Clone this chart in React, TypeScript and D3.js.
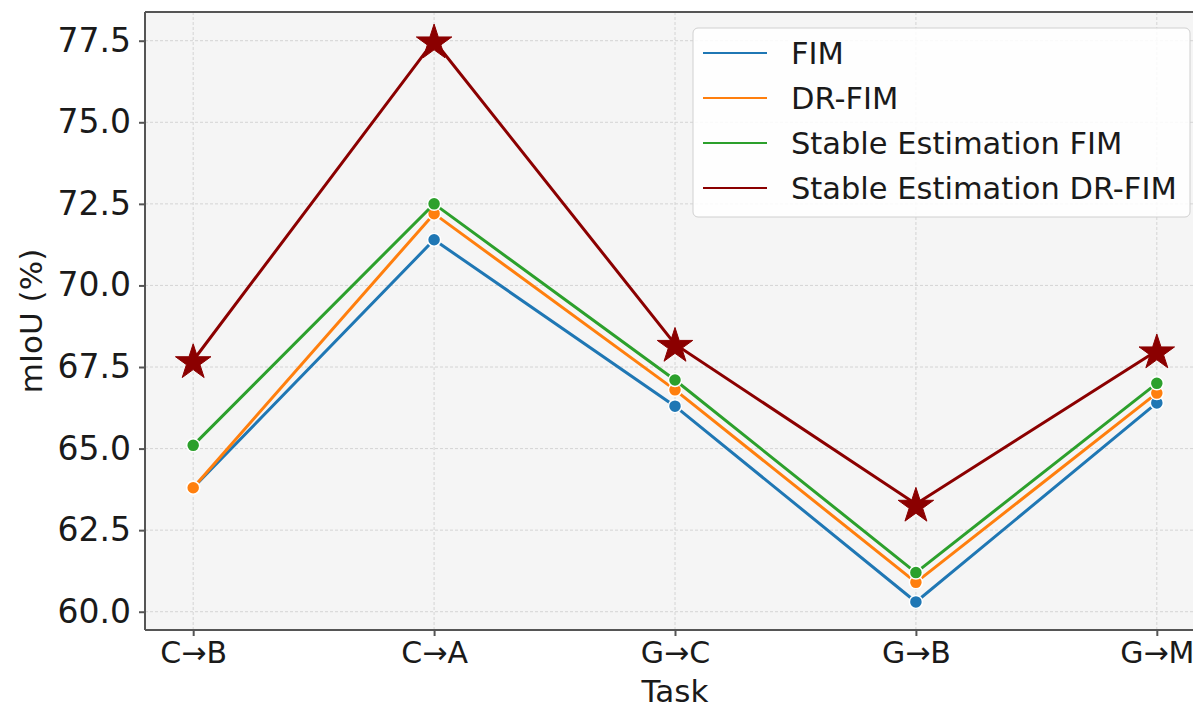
import * as d3 from "d3";
import { useEffect, useRef } from "react";

const tasks = ["C→B", "C→A", "G→C", "G→B", "G→M"];
const fim = [63.8, 71.4, 66.3, 60.3, 66.4];
const drFim = [63.8, 72.2, 66.8, 60.9, 66.7];
const seFim = [65.1, 72.5, 67.1, 61.2, 67.0];
const seDrFim = [67.7, 77.5, 68.2, 63.3, 68.0];
const yTicks = [60.0, 62.5, 65.0, 67.5, 70.0, 72.5, 75.0, 77.5];

const seriesList = [
    { name: "FIM", values: fim, color: "#1f77b4", star: false },
    { name: "DR-FIM", values: drFim, color: "#ff7f0e", star: false },
    { name: "Stable Estimation FIM", values: seFim, color: "#2ca02c", star: false },
    { name: "Stable Estimation DR-FIM", values: seDrFim, color: "#8b0000", star: true },
];

const App = () => {
    const chartRef = useRef(null);
    const width = 1193;
    const height = 708;
    const margin = { top: 12, bottom: 78, left: 145, right: 0 };

    useEffect(() => {
        const svg = d3.select(chartRef.current);
        svg.selectAll("*").remove();
        const font = "DejaVu Sans, sans-serif";

        const scaleX = d3.scaleLinear()
            .domain([-0.2, tasks.length - 1 + 0.2])
            .range([margin.left, 1205]);
        const scaleY = d3.scaleLinear()
            .domain([59.44, 78.38])
            .range([height - margin.bottom, margin.top]);

        const x0 = scaleX(-0.2), x1 = scaleX(tasks.length - 1 + 0.2);
        const y0 = scaleY(59.44), y1 = scaleY(78.38);

        svg.append("rect")
            .attr("x", x0)
            .attr("y", y1)
            .attr("width", x1 - x0)
            .attr("height", y0 - y1)
            .style("fill", "#f5f5f5");

        // grid
        const grid = svg.append("g");
        grid.selectAll(".gy")
            .data(yTicks)
            .enter()
            .append("line")
            .attr("x1", x0).attr("x2", x1)
            .attr("y1", d => scaleY(d)).attr("y2", d => scaleY(d))
            .style("stroke", "#d4d4d4")
            .style("stroke-width", 1)
            .style("stroke-dasharray", "3,2");
        grid.selectAll(".gx")
            .data(tasks)
            .enter()
            .append("line")
            .attr("x1", (d, i) => scaleX(i)).attr("x2", (d, i) => scaleX(i))
            .attr("y1", y1).attr("y2", y0)
            .style("stroke", "#d4d4d4")
            .style("stroke-width", 1)
            .style("stroke-dasharray", "3,2");

        // lines and markers
        const line = d3.line<number>()
            .x((d, i) => scaleX(i))
            .y(d => scaleY(d));

        seriesList.forEach(s => {
            svg.append("path")
                .datum(s.values)
                .attr("d", line)
                .style("fill", "none")
                .style("stroke", s.color)
                .style("stroke-width", 3);
            if (s.star) {
                svg.selectAll(null)
                    .data(s.values)
                    .enter()
                    .append("path")
                    .attr("d", d3.symbol().type(d3.symbolStar).size(390)())
                    .attr("transform", (d, i) => `translate(${scaleX(i)}, ${scaleY(d) + 2})`)
                    .style("fill", s.color)
                    .style("stroke", s.color)
                    .style("stroke-width", 1);
            } else {
                svg.selectAll(null)
                    .data(s.values)
                    .enter()
                    .append("circle")
                    .attr("cx", (d, i) => scaleX(i))
                    .attr("cy", d => scaleY(d))
                    .attr("r", 6.5)
                    .style("fill", s.color)
                    .style("stroke", "white")
                    .style("stroke-width", 1.5);
            }
        });

        // spines
        svg.append("line")
            .attr("x1", x0).attr("x2", x0).attr("y1", y1).attr("y2", y0)
            .style("stroke", "#555").style("stroke-width", 2);
        svg.append("line")
            .attr("x1", x0).attr("x2", x1).attr("y1", y0).attr("y2", y0)
            .style("stroke", "#555").style("stroke-width", 2);
        svg.append("line")
            .attr("x1", x0).attr("x2", x1).attr("y1", y1).attr("y2", y1)
            .style("stroke", "#555").style("stroke-width", 2);

        // y axis
        const yAxis = d3.axisLeft(scaleY)
            .tickValues(yTicks)
            .tickFormat(d3.format(".1f"))
            .tickSize(6)
            .tickPadding(8);
        const gy = svg.append("g")
            .attr("transform", `translate(${x0}, 0)`)
            .call(yAxis);
        gy.select(".domain").remove();
        gy.selectAll("line").style("stroke", "#555").style("stroke-width", 2);
        gy.selectAll("text")
            .style("font-family", font)
            .style("font-size", "33px")
            .style("fill", "#1a1a1a");

        // x axis
        const xAxis = d3.axisBottom(scaleX)
            .tickValues(tasks.map((d, i) => i))
            .tickFormat((d, i) => tasks[i])
            .tickSize(6)
            .tickPadding(6);
        const gx = svg.append("g")
            .attr("transform", `translate(0, ${y0})`)
            .call(xAxis);
        gx.select(".domain").remove();
        gx.selectAll("line").style("stroke", "#555").style("stroke-width", 2);
        gx.selectAll("text")
            .style("font-family", font)
            .style("font-size", "30px")
            .style("fill", "#1a1a1a");

        // axis labels
        svg.append("text")
            .attr("x", 675)
            .attr("y", 702)
            .attr("text-anchor", "middle")
            .style("font-family", font)
            .style("font-size", "31px")
            .style("fill", "#1a1a1a")
            .text("Task");
        svg.append("text")
            .attr("transform", `translate(42, ${(y0 + y1) / 2}) rotate(-90)`)
            .attr("text-anchor", "middle")
            .style("font-family", font)
            .style("font-size", "31px")
            .style("fill", "#1a1a1a")
            .text("mIoU (%)");

        // legend
        const lg = svg.append("g");
        lg.append("rect")
            .attr("x", 693)
            .attr("y", 28)
            .attr("width", 497)
            .attr("height", 189)
            .attr("rx", 5)
            .style("fill", "white")
            .style("fill-opacity", 0.85)
            .style("stroke", "#d0d0d0")
            .style("stroke-width", 1);
        seriesList.forEach((s, i) => {
            const yy = 53 + i * 45;
            lg.append("line")
                .attr("x1", 703).attr("x2", 767)
                .attr("y1", yy).attr("y2", yy)
                .style("stroke", s.color)
                .style("stroke-width", 2);
            lg.append("text")
                .attr("x", 791)
                .attr("y", yy)
                .attr("dy", "0.36em")
                .style("font-family", font)
                .style("font-size", "30.5px")
                .style("fill", "#1a1a1a")
                .text(s.name);
        });
    }, []);

    return (
        <svg ref={chartRef} width={width} height={height}
            style={{ position: "absolute", left: 0, top: 0, background: "white" }}></svg>
    );
};

export default App;
